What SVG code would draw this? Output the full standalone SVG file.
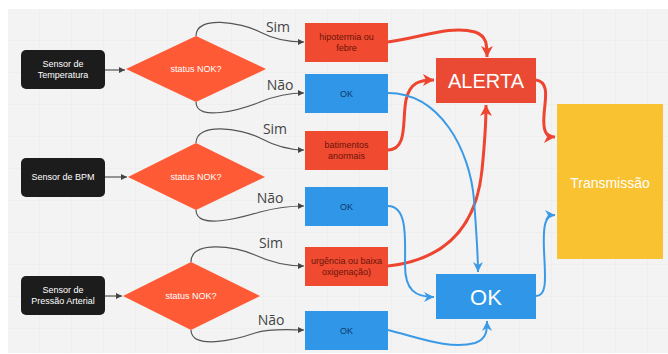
<svg xmlns="http://www.w3.org/2000/svg" width="668" height="354" viewBox="0 0 668 354">
<defs>
<pattern id="grid" width="32" height="32" patternUnits="userSpaceOnUse" x="8" y="9">
<path d="M32 0V32M0 32H32" fill="none" stroke="#e6e6e6" stroke-width="0.8"/>
</pattern>
<marker id="ag" markerWidth="8" markerHeight="8" refX="6" refY="4" orient="auto" markerUnits="userSpaceOnUse">
<path d="M0,1 L6,4 L0,7 Z" fill="#444"/>
</marker>
<marker id="ar" markerWidth="14" markerHeight="14" refX="11" refY="7" orient="auto" markerUnits="userSpaceOnUse">
<path d="M0,1 L11,7 L0,13 L3,7 Z" fill="#ee4530"/>
</marker>
<marker id="ab" markerWidth="12" markerHeight="12" refX="10" refY="6" orient="auto" markerUnits="userSpaceOnUse">
<path d="M0,1 L10,6 L0,11 L3,6 Z" fill="#3b9ae6"/>
</marker>
</defs>
<style>
.sensor{fill:#1c1c1c}
.dia{fill:#ff5a36}
.red{fill:#f04a31}
.blue{fill:#2f96e8}
.wt{font-family:"Liberation Sans",Arial,sans-serif;font-size:9px;fill:#ffffff;text-anchor:middle}
.rt{font-family:"Liberation Sans",Arial,sans-serif;font-size:9px;fill:#6b1408;text-anchor:middle}
.bt{font-family:"Liberation Sans",Arial,sans-serif;font-size:9px;fill:#0d3a6c;text-anchor:middle}
.lbl{font-family:"Open Sans","Liberation Sans",sans-serif;font-size:14px;fill:#444;text-anchor:middle}
.big{font-family:"Liberation Sans",Arial,sans-serif;fill:#ffffff;text-anchor:middle}
.cg{fill:none;stroke:#555;stroke-width:1.2;marker-end:url(#ag)}
.cr{fill:none;stroke:#ee4530;stroke-width:3;marker-end:url(#ar)}
.cb{fill:none;stroke:#3b9ae6;stroke-width:2;marker-end:url(#ab)}
</style>
<rect width="668" height="354" fill="#ffffff"/>
<rect x="8" y="9" width="660" height="344" fill="#f3f3f3"/>
<rect x="8" y="9" width="660" height="344" fill="url(#grid)"/>

<g id="connectors">
<path class="cg" d="M105,70 L125,70"/>
<path class="cg" d="M105,177 L127,177"/>
<path class="cg" d="M105,296 L122,296"/>
<path class="cg" d="M196,36 C196,15 240,22 260,32 C275,40 290,42 304,42"/>
<path class="cg" d="M196,102 C196,122 240,110 260,102 C275,96 290,93 304,93"/>
<path class="cg" d="M196,143 C196,122 240,128 260,138 C275,146 290,150 304,150"/>
<path class="cg" d="M196,210 C196,230 240,218 260,212 C275,208 290,206 304,206"/>
<path class="cg" d="M191,262 C191,240 235,246 255,255 C272,263 290,266 304,266"/>
<path class="cg" d="M191,330 C191,350 235,340 255,333 C272,328 290,330 304,330"/>
<path class="cr" d="M388,42 C420,38 450,25 475,32 C487,36 487,45 487,57"/>
<path class="cr" d="M388,150 C408,150 402,120 406,100 C410,82 420,80 434,80"/>
<path class="cr" d="M388,266 C460,258 478,210 482,170 C485,140 486,125 486,105"/>
<path class="cr" d="M536,80 C550,82 545,100 544,115 C543,130 545,137 555,137"/>
<path class="cb" d="M388,93 C440,93 470,150 474,200 C477,240 478,255 478,272"/>
<path class="cb" d="M388,206 C408,206 405,240 405,265 C405,290 415,297 434,297"/>
<path class="cb" d="M388,330 C420,338 450,350 475,343 C487,339 487,330 487,321"/>
<path class="cb" d="M536,296 C548,296 545,275 544,250 C543,225 545,215 555,215"/>
</g>

<g id="sensor-temp">
<rect class="sensor" x="21" y="50" width="84" height="39" rx="5"/>
<text class="wt" x="63" y="67">Sensor de</text>
<text class="wt" x="63" y="78">Temperatura</text>
</g>
<g id="sensor-bpm">
<rect class="sensor" x="21" y="158" width="84" height="39" rx="5"/>
<text class="wt" x="63" y="180">Sensor de BPM</text>
</g>
<g id="sensor-pressao">
<rect class="sensor" x="21" y="276" width="84" height="39" rx="5"/>
<text class="wt" x="63" y="293">Sensor de</text>
<text class="wt" x="63" y="304">Pressão Arterial</text>
</g>

<g id="decisao-temp">
<polygon class="dia" points="126,69 196,36 266,69 196,102"/>
<text class="wt" x="196" y="72">status NOK?</text>
</g>
<g id="decisao-bpm">
<polygon class="dia" points="128,177 196,143 265,177 196,210"/>
<text class="wt" x="196" y="180">status NOK?</text>
</g>
<g id="decisao-pressao">
<polygon class="dia" points="123,296 191,262 260,296 191,330"/>
<text class="wt" x="191" y="299">status NOK?</text>
</g>

<g id="labels">
<text class="lbl" x="278" y="32">Sim</text>
<text class="lbl" x="280" y="90">Não</text>
<text class="lbl" x="275" y="134">Sim</text>
<text class="lbl" x="270" y="203">Não</text>
<text class="lbl" x="271" y="248">Sim</text>
<text class="lbl" x="271" y="325">Não</text>
</g>

<g id="hipotermia">
<rect class="red" x="305" y="23" width="83" height="39"/>
<text class="rt" x="346.5" y="40">hipotermia ou</text>
<text class="rt" x="346.5" y="51">febre</text>
</g>
<g id="ok-temp">
<rect class="blue" x="305" y="74" width="83" height="39"/>
<text class="bt" x="346.5" y="97">OK</text>
</g>
<g id="batimentos">
<rect class="red" x="305" y="131" width="83" height="39"/>
<text class="rt" x="346.5" y="148">batimentos</text>
<text class="rt" x="346.5" y="159">anormais</text>
</g>
<g id="ok-bpm">
<rect class="blue" x="305" y="187" width="83" height="39"/>
<text class="bt" x="346.5" y="210">OK</text>
</g>
<g id="urgencia">
<rect class="red" x="305" y="247" width="83" height="39"/>
<text class="rt" x="346.5" y="264">urgência ou baixa</text>
<text class="rt" x="346.5" y="275">oxigenação)</text>
</g>
<g id="ok-pressao">
<rect class="blue" x="305" y="311" width="83" height="39"/>
<text class="bt" x="346.5" y="334">OK</text>
</g>

<g id="alerta">
<rect x="436" y="58" width="100" height="45" fill="#ea4a33"/>
<text class="big" x="486" y="88" font-size="20">ALERTA</text>
</g>
<g id="ok-final">
<rect x="436" y="274" width="100" height="45" fill="#2f96e8"/>
<text class="big" x="486" y="305" font-size="22">OK</text>
</g>
<g id="transmissao">
<rect x="557" y="104" width="106" height="155" fill="#f8c230"/>
<text class="big" x="610" y="188" font-size="14">Transmissão</text>
</g>
</svg>
